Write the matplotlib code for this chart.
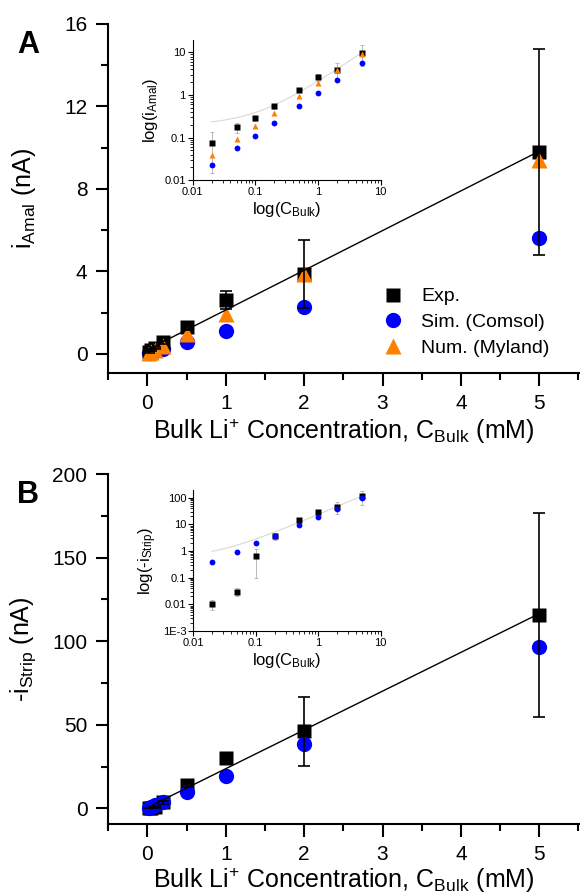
import numpy as np
import matplotlib
matplotlib.use('Agg')
import matplotlib.pyplot as plt
from matplotlib.ticker import MultipleLocator, LogLocator, FixedLocator, FixedFormatter, NullFormatter

plt.rcParams['font.family'] = ['Liberation Sans', 'DejaVu Sans']
plt.rcParams['mathtext.fontset'] = 'custom'
plt.rcParams['mathtext.rm'] = 'Liberation Sans'
plt.rcParams['mathtext.it'] = 'Liberation Sans:italic'

# Concentrações de Li+ (mM)
conc = np.array([0.02, 0.05, 0.1, 0.2, 0.5, 1, 2, 5])

# Painel A: corrente de amalgamação (nA)
amal_exp = np.array([0.075, 0.175, 0.29, 0.55, 1.32, 2.6, 3.85, 9.8])
amal_exp_err = np.array([0.06, 0.045, 0.04, 0.08, 0.15, 0.45, 1.65, 5.0])
amal_sim = np.array([0.023, 0.057, 0.11, 0.22, 0.56, 1.1, 2.25, 5.6])
amal_num = np.array([0.04, 0.095, 0.19, 0.38, 0.97, 1.95, 3.85, 9.4])

# Painel B: corrente de stripping (nA)
strip_exp = np.array([0.01, 0.03, 0.65, 3.6, 14.0, 30.0, 46.0, 115.5])
strip_exp_err = np.array([0.004, 0.01, 0.55, 1.0, 1.5, 2.0, 20.5, 61.0])
strip_sim = np.array([0.4, 0.95, 2.0, 3.8, 9.6, 19.5, 38.5, 96.5])

AZUL = '#0000FF'
LARANJA = '#FF8000'
CINZA = '#b8b8b8'

W, H = 580, 896
fig = plt.figure(figsize=(W / 100, H / 100), dpi=100)


def eixo(x0, y_top, x1, y_bot):
    # posição em pixels -> fração da figura
    return fig.add_axes([x0 / W, 1 - y_bot / H, (x1 - x0) / W, (y_bot - y_top) / H])


def estilo_principal(ax, ylabel, xlab_y):
    for s in ['top', 'right']:
        ax.spines[s].set_visible(False)
    for s in ['left', 'bottom']:
        ax.spines[s].set_linewidth(1.5)
    ax.tick_params(which='major', direction='out', length=9, width=1.5, labelsize=15, pad=6)
    ax.tick_params(which='minor', direction='out', length=5, width=1.5)
    ax.set_xlim(-0.5, 5.52)
    ax.xaxis.set_major_locator(MultipleLocator(1))
    ax.xaxis.set_minor_locator(MultipleLocator(0.5))
    ax.set_xlabel(r'Bulk Li$^{+}$ Concentration, C$_{\mathrm{Bulk}}$ (mM)', fontsize=18)
    ax.xaxis.set_label_coords(0.5, xlab_y)
    ax.set_ylabel(ylabel, fontsize=18)
    ax.yaxis.set_label_coords(-0.15, 0.5)


def estilo_inset(ax, yticks, ylabels):
    for s in ['top', 'right']:
        ax.spines[s].set_visible(False)
    for s in ['left', 'bottom']:
        ax.spines[s].set_linewidth(0.8)
    ax.set_xscale('log')
    ax.set_yscale('log')
    ax.set_xlim(0.01, 10)
    ax.xaxis.set_major_locator(FixedLocator([0.01, 0.1, 1, 10]))
    ax.xaxis.set_major_formatter(FixedFormatter(['0.01', '0.1', '1', '10']))
    ax.yaxis.set_major_locator(FixedLocator(yticks))
    ax.yaxis.set_major_formatter(FixedFormatter(ylabels))
    for eixo_ in (ax.xaxis, ax.yaxis):
        eixo_.set_minor_locator(LogLocator(base=10, subs=np.arange(2, 10), numticks=20))
        eixo_.set_minor_formatter(NullFormatter())
    ax.tick_params(which='major', direction='out', length=3.5, width=0.8, labelsize=8, pad=1.5)
    ax.tick_params(which='minor', direction='out', length=2, width=0.6)
    ax.set_xlabel(r'log(C$_{\mathrm{Bulk}}$)', fontsize=12, labelpad=2)


# ---------------- Painel A ----------------
ax_a = eixo(108.3, 24, 580, 373.3)
estilo_principal(ax_a, r'i$_{\mathrm{Amal}}$ (nA)', -0.125)
ax_a.set_ylim(-0.95, 16)
ax_a.yaxis.set_major_locator(MultipleLocator(4))
ax_a.yaxis.set_minor_locator(MultipleLocator(2))

coef_a = np.polyfit(conc, amal_exp, 1)
ax_a.plot(conc, amal_sim, 'o', color=AZUL, ms=11, mec='none', zorder=2, label='Sim. (Comsol)')
ax_a.plot(conc, amal_exp, 's', color='black', ms=10, mec='none', zorder=3, label='Exp.')
ax_a.plot(conc, amal_num, '^', color=LARANJA, ms=12, mec='none', zorder=4, label='Num. (Myland)')
ax_a.errorbar(conc, amal_exp, yerr=amal_exp_err, fmt='none', ecolor='black',
              elinewidth=1.2, capsize=4.5, capthick=1.2, zorder=5)
ax_a.plot([conc[0], conc[-1]], np.polyval(coef_a, [conc[0], conc[-1]]), color='black', lw=1, zorder=6)

h, l = ax_a.get_legend_handles_labels()
ordem = [1, 0, 2]
ax_a.legend([h[i] for i in ordem], [l[i] for i in ordem], loc='upper left',
            bbox_to_anchor=(0.583, 0.245), frameon=False, fontsize=14,
            handlelength=0.95, handletextpad=1.0, labelspacing=0.42,
            borderpad=0, borderaxespad=0)

ins_a = eixo(192.7, 40, 380.7, 180.3)
estilo_inset(ins_a, [0.01, 0.1, 1, 10], ['0.01', '0.1', '1', '10'])
ins_a.set_ylim(0.01, 19.5)
ins_a.set_ylabel(r'log(i$_{\mathrm{Amal}}$)', fontsize=12, labelpad=3)
xs = np.logspace(np.log10(conc[0]), np.log10(conc[-1]), 100)
ins_a.plot(xs, np.polyval(coef_a, xs), color='#d8d8d8', lw=0.8, zorder=1)
ins_a.errorbar(conc, amal_exp, yerr=amal_exp_err, fmt='none', ecolor=CINZA,
               elinewidth=0.7, capsize=1.5, capthick=0.7, zorder=2)
ins_a.plot(conc, amal_exp, 's', color='black', ms=3.8, mec='none', zorder=3)
ins_a.plot(conc, amal_num, '^', color=LARANJA, ms=4.2, mec='none', zorder=4)
ins_a.plot(conc, amal_sim, 'o', color=AZUL, ms=4.2, mec='none', zorder=4)

# ---------------- Painel B ----------------
ax_b = eixo(108.3, 474, 580, 824)
estilo_principal(ax_b, r'-i$_{\mathrm{Strip}}$ (nA)', -0.118)
ax_b.set_ylim(-9.4, 200)
ax_b.yaxis.set_major_locator(MultipleLocator(50))
ax_b.yaxis.set_minor_locator(MultipleLocator(25))

coef_b = np.polyfit(conc, strip_exp, 1)
ax_b.plot(conc, strip_exp, 's', color='black', ms=10, mec='none', zorder=3)
ax_b.plot(conc, strip_sim, 'o', color=AZUL, ms=11, mec='none', zorder=4)
ax_b.errorbar(conc, strip_exp, yerr=strip_exp_err, fmt='none', ecolor='black',
              elinewidth=1.2, capsize=4.5, capthick=1.2, zorder=5)
ax_b.plot([conc[0], conc[-1]], np.polyval(coef_b, [conc[0], conc[-1]]), color='black', lw=1, zorder=6)

ins_b = eixo(193.3, 490, 380.7, 631)
estilo_inset(ins_b, [1e-3, 0.01, 0.1, 1, 10, 100], ['1E-3', '0.01', '0.1', '1', '10', '100'])
ins_b.set_ylim(1e-3, 195)
ins_b.set_ylabel(r'log(-i$_{\mathrm{Strip}}$)', fontsize=12, labelpad=3)
ins_b.plot(xs, np.polyval(coef_b, xs), color='#d8d8d8', lw=0.8, zorder=1)
ins_b.errorbar(conc, strip_exp, yerr=strip_exp_err, fmt='none', ecolor=CINZA,
               elinewidth=0.7, capsize=1.5, capthick=0.7, zorder=2)
ins_b.plot(conc, strip_exp, 's', color='black', ms=3.8, mec='none', zorder=3)
ins_b.plot(conc, strip_sim, 'o', color=AZUL, ms=4.2, mec='none', zorder=4)

# Rótulos dos painéis
fig.text(28 / W, 1 - 45 / H, 'A', fontsize=22, fontweight='bold', ha='center', va='center')
fig.text(28 / W, 1 - 495 / H, 'B', fontsize=22, fontweight='bold', ha='center', va='center')

fig.savefig('out.png', dpi=100)
